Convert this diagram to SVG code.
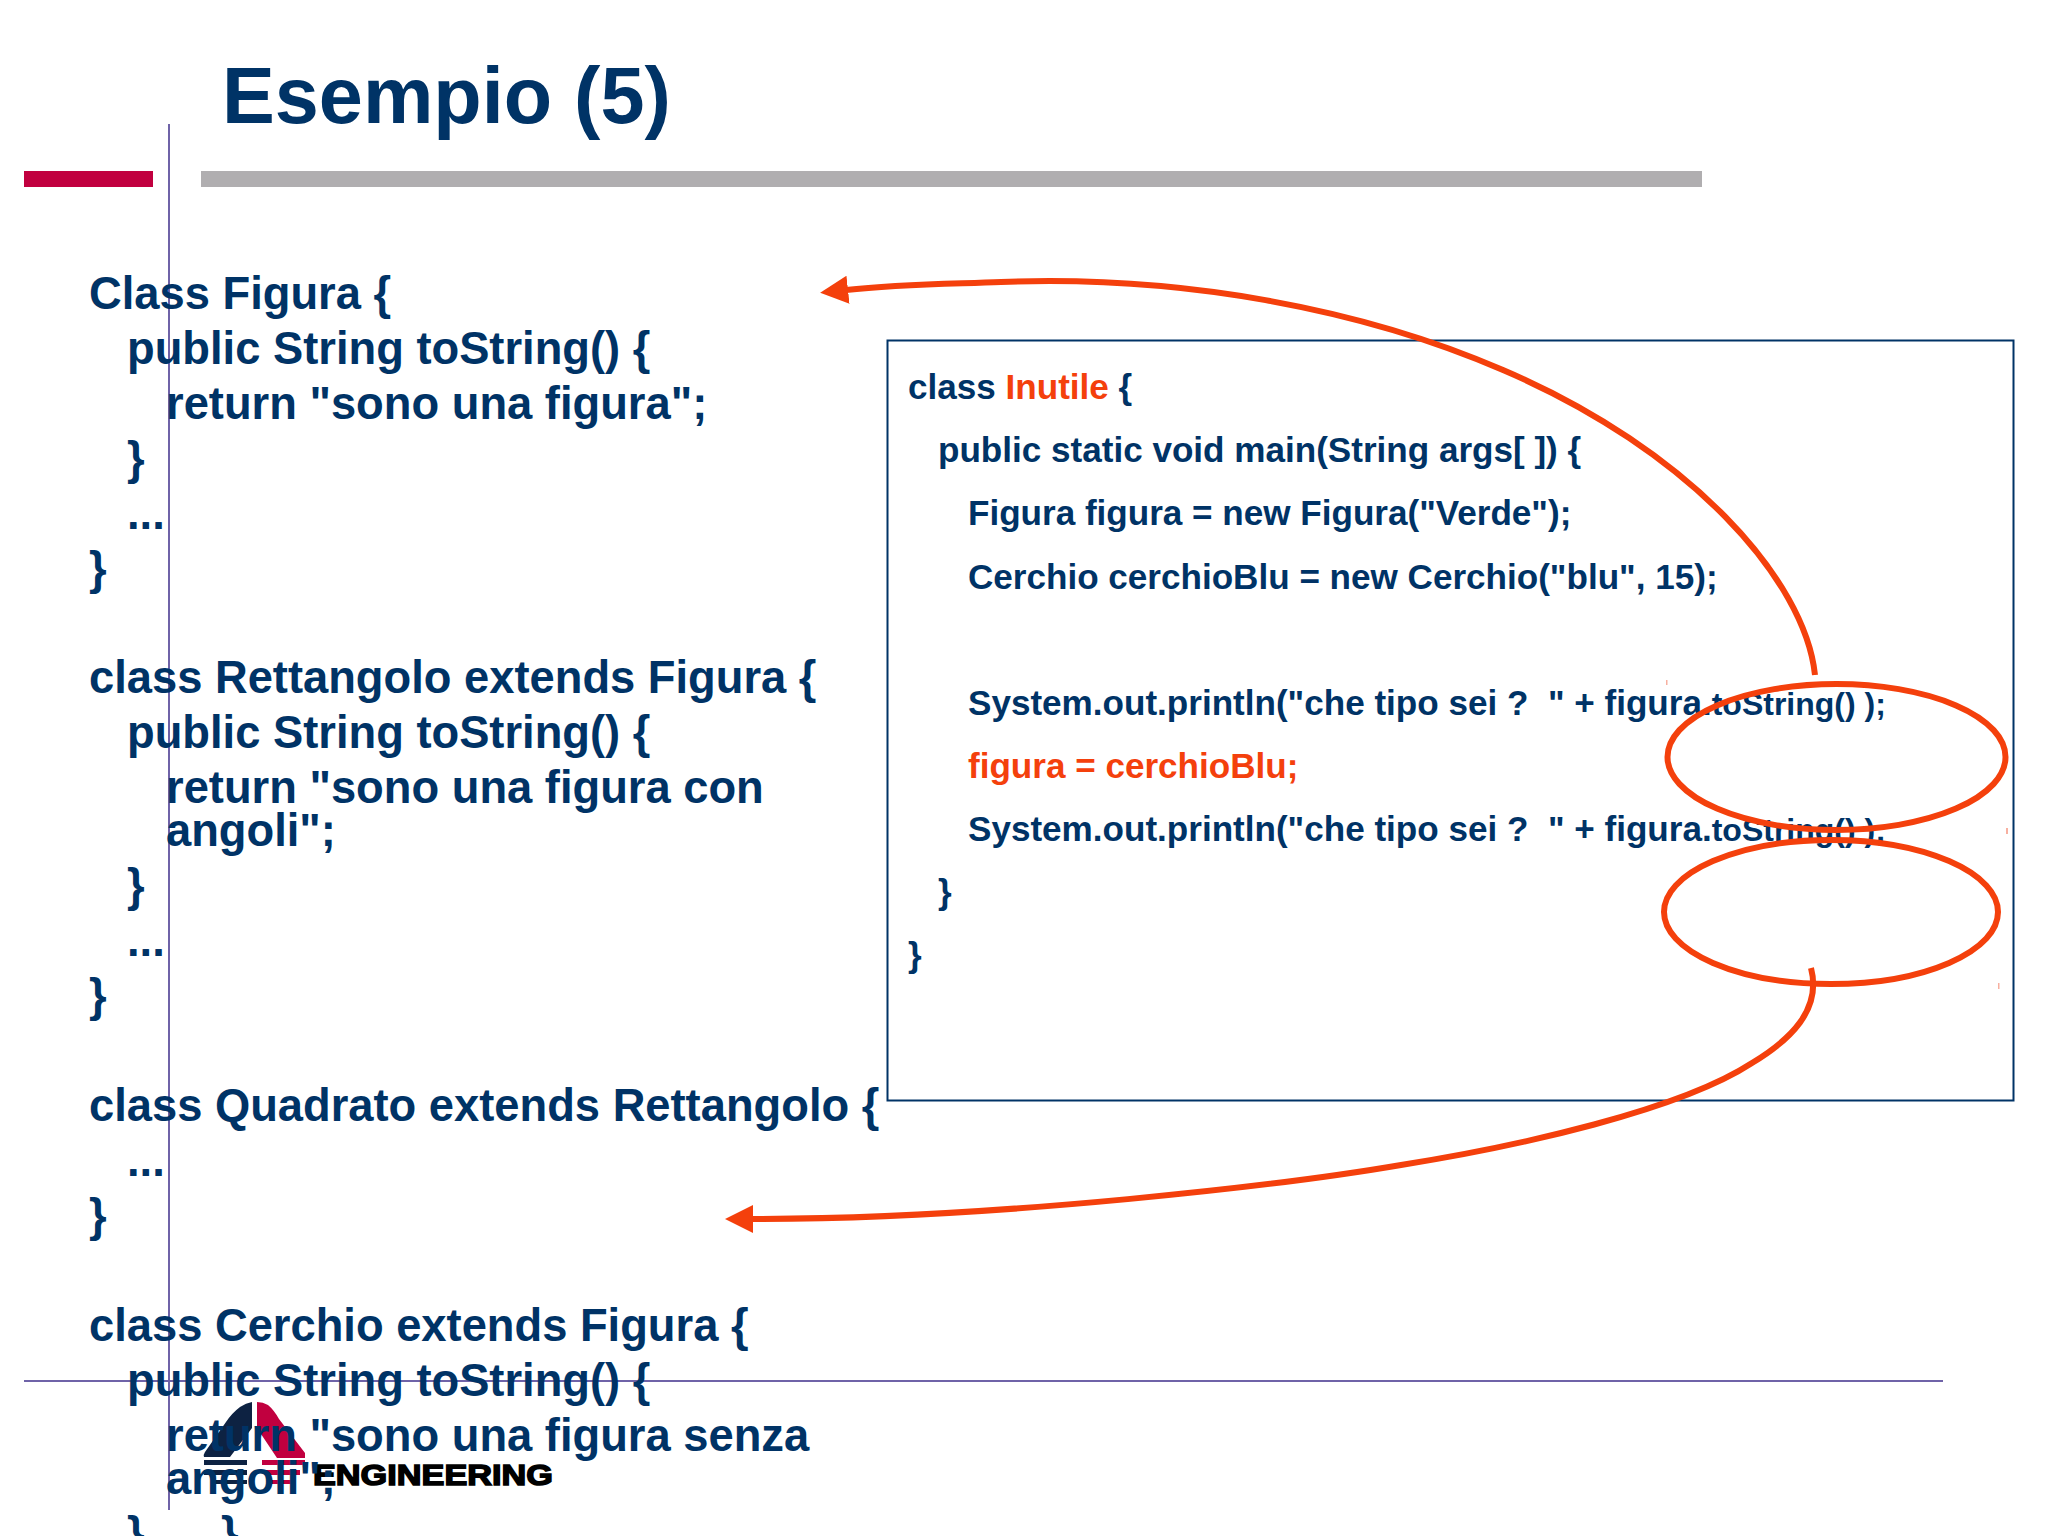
<svg xmlns="http://www.w3.org/2000/svg" width="2048" height="1536" viewBox="0 0 2048 1536">
<style>
text{font-family:"Liberation Sans",Arial,sans-serif;font-weight:700;fill:#003366;white-space:pre}
.l{font-size:45.3px}
.r{font-size:35.1px}
.s{font-size:32px}
.o{fill:#f4400c}
.red{fill:none;stroke:#f4400c;stroke-width:6}
.rule{stroke:#6f63a8;stroke-width:2;fill:none}
.tick{fill:#f7b0a0}
</style>
<defs>
<marker id="ah" markerUnits="userSpaceOnUse" markerWidth="32" markerHeight="30" refX="2" refY="14" orient="auto"><path d="M0 0L28 14L0 28Z" fill="#f4400c"/></marker>
</defs>
<rect width="2048" height="1536" fill="#fff"/>
<g id="decor">
<rect x="24" y="171" width="129" height="16" fill="#c1003f"/>
<rect x="201" y="171" width="1501" height="16" fill="#b0aeb0"/>
<path class="rule" d="M169 124V1510M24 1381H1943"/>
</g>
<g id="logo">
<path d="M252 1402Q246 1403 240 1407Q232 1413 226 1422L205 1452Q203 1455 204 1457H230L252 1428Z" fill="#0d2242"/>
<path d="M257 1402Q263 1402 268 1405Q274 1410 279 1419L305 1453V1458H277L257 1428Z" fill="#c1003f"/>
<path d="M204 1460H247V1465H204ZM204 1470H247V1475H204ZM211 1480H247V1484H211Z" fill="#0d2242"/>
<path d="M262 1460H305V1465H262ZM265 1470H300V1475H265ZM272 1480H293V1484H272Z" fill="#c1003f"/>
<text x="313" y="1485" font-size="30" textLength="240" lengthAdjust="spacingAndGlyphs" style="fill:#000;stroke:#000;stroke-width:1.5">ENGINEERING</text>
</g>
<g id="title"><text x="222" y="123" font-size="79.2">Esempio (5)</text></g>
<g id="code-left">
<text class="l" x="89" y="309">Class Figura {</text>
<text class="l" x="127" y="364">public String toString() {</text>
<text class="l" x="166" y="419">return "sono una figura";</text>
<text class="l" x="127" y="474">}</text>
<text class="l" x="127" y="529">...</text>
<text class="l" x="89" y="584">}</text>
<text class="l" x="89" y="693">class Rettangolo extends Figura {</text>
<text class="l" x="127" y="748">public String toString() {</text>
<text class="l" x="166" y="803">return "sono una figura con</text>
<text class="l" x="166" y="846">angoli";</text>
<text class="l" x="127" y="901">}</text>
<text class="l" x="127" y="956">...</text>
<text class="l" x="89" y="1011">}</text>
<text class="l" x="89" y="1121">class Quadrato extends Rettangolo {</text>
<text class="l" x="127" y="1176">...</text>
<text class="l" x="89" y="1231">}</text>
<text class="l" x="89" y="1341">class Cerchio extends Figura {</text>
<text class="l" x="127" y="1396">public String toString() {</text>
<text class="l" x="166" y="1451">return "sono una figura senza</text>
<text class="l" x="166" y="1494">angoli";</text>
<text class="l" x="127" y="1549">}</text>
<text class="l" x="221" y="1549">}</text>
</g>
<g id="box-inutile">
<rect x="887.5" y="340.5" width="1126" height="760" fill="none" stroke="#003366" stroke-width="2"/>
<text class="r" x="908" y="399">class <tspan class="o">Inutile</tspan> {</text>
<text class="r" x="938" y="462">public static void main(String args[ ]) {</text>
<text class="r" x="968" y="525">Figura figura = new Figura("Verde");</text>
<text class="r" x="968" y="589">Cerchio cerchioBlu = new Cerchio("blu", 15);</text>
<text class="r" x="968" y="715">System.out.println("che tipo sei ?  " + figura.<tspan class="s">toString() );</tspan></text>
<text class="r o" x="968" y="778">figura = cerchioBlu;</text>
<text class="r" x="968" y="841">System.out.println("che tipo sei ?  " + figura.<tspan class="s">toString() );</tspan></text>
<text class="r" x="938" y="904">}</text>
<text class="r" x="908" y="967">}</text>
</g>
<g id="highlight-1"><ellipse class="red" cx="1836.5" cy="757" rx="169" ry="73"/></g>
<g id="highlight-2"><ellipse class="red" cx="1831" cy="912" rx="167" ry="72"/></g>
<g id="connectors">
<path class="red" marker-end="url(#ah)" d="M1815 675C1805 580 1690 450 1503 370C1360 308 1180 275 1001 282C950 284 900 284 846 290"/>
<path class="red" marker-end="url(#ah)" d="M1811 968C1822 1010 1790 1040 1752 1063C1680 1110 1520 1146 1401 1165C1290 1184 1000 1219 751 1219"/>
</g>
<g id="ticks">
<rect class="tick" x="1666" y="680" width="1.5" height="5"/>
<rect class="tick" x="2006" y="828" width="2" height="6"/>
<rect class="tick" x="1998" y="983" width="1.5" height="6"/>
</g>
</svg>
